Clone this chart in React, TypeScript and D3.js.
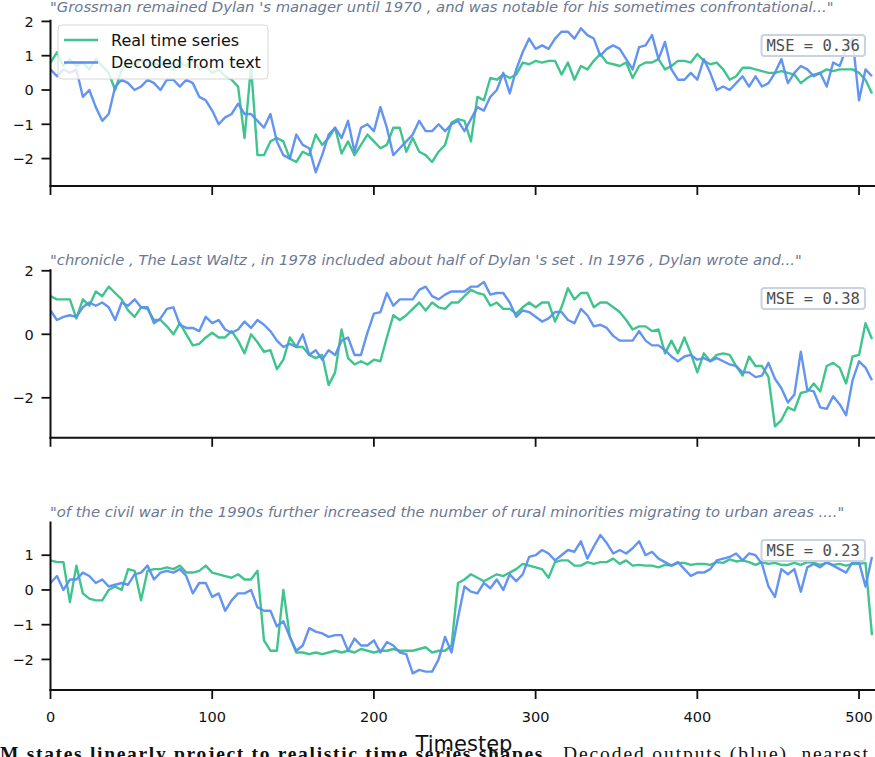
import React from "react";
import * as d3 from "d3";

// ---------- data ----------
const STEP = 4; // timestep spacing between read samples
const X_TICKS = [0, 100, 200, 300, 400, 500];
const Y_TICKS_1 = [-2, -1, 0, 1, 2];
const Y_TICKS_2 = [-2, 0, 2];
const Y_TICKS_3 = [-2, -1, 0, 1];
const TITLES = [
  "\"Grossman remained Dylan 's manager until 1970 , and was notable for his sometimes confrontational...\"",
  "\"chronicle , The Last Waltz , in 1978 included about half of Dylan 's set . In 1976 , Dylan wrote and...\"",
  "\"of the civil war in the 1990s further increased the number of rural minorities migrating to urban areas ....\"",
];
const MSE = ["0.36", "0.38", "0.23"];
const SERIES_NAMES = ["Real time series", "Decoded from text"];

const REAL_1 = [
  0.8, 1.1, 0.7, 0.9, 0.7, 0.8, 0.6, 0.9, 0.7, 0.5, 0.0, 0.6, 0.8, 0.7, 0.9, 0.6,
  0.8, 0.7, 0.9, 0.6, 0.8, 0.7, 0.9, 0.6, 0.7, 0.5, 0.6, 0.4, 0.3, 0.1, -1.4, 0.7,
  -1.9, -1.9, -1.5, -1.4, -1.5, -2.0, -2.1, -1.8, -1.9, -1.3, -1.6, -1.4, -1.1, -1.85, -1.5, -1.9,
  -1.6, -1.3, -1.5, -1.7, -1.6, -1.1, -1.1, -1.8, -1.4, -1.8, -1.9, -2.1, -1.8, -1.6, -0.95, -0.85,
  -0.9, -1.5, -0.2, -0.3, 0.35, 0.3, 0.45, 0.35, 0.45, 0.8, 0.75, 0.85, 0.8, 0.85, 0.85, 0.45,
  0.8, 0.3, 0.7, 0.6, 0.85, 1.05, 0.8, 0.75, 0.7, 0.8, 0.35, 0.7, 0.8, 0.8, 0.9, 0.6,
  0.7, 0.85, 0.85, 0.8, 1.05, 0.85, 0.75, 0.8, 0.6, 0.3, 0.4, 0.65, 0.65, 0.6, 0.55, 0.5,
  0.5, 0.55, 0.5, 0.45, 0.2, 0.35, 0.45, 0.5, 0.6, 0.55, 0.6, 0.6, 0.6, 0.5, 0.3, -0.1,
];
const DECODED_1 = [
  0.6, 0.4, 0.6, 0.5, 0.6, -0.2, 0.0, -0.5, -0.9, -0.7, 0.1, 0.3, 0.2, 0.0, 0.1, 0.3,
  0.2, 0.0, 0.3, 0.3, 0.1, 0.3, 0.2, -0.2, -0.3, -0.6, -1.0, -0.8, -0.7, -0.4, -0.7, -0.7,
  -0.9, -1.1, -0.7, -1.5, -1.9, -2.0, -1.3, -1.6, -1.7, -2.4, -1.9, -1.3, -1.1, -1.4, -0.9, -1.8,
  -1.1, -1.0, -1.2, -0.5, -1.1, -1.9, -1.7, -1.5, -1.3, -0.9, -1.2, -1.2, -1.0, -1.2, -1.0, -0.9,
  -1.2, -0.85, -0.5, -0.6, -0.2, 0.0, 0.5, -0.1, 0.6, 1.1, 1.5, 1.2, 1.3, 1.2, 1.5, 1.7,
  1.7, 1.5, 1.8, 1.6, 1.5, 1.0, 1.2, 1.3, 1.2, 0.9, 0.6, 1.25, 1.3, 1.6, 0.9, 1.4,
  0.6, 0.3, 0.3, 0.5, 0.3, 0.9, 0.5, 0.0, 0.1, 0.0, 0.2, 0.4, 0.1, 0.4, 0.1, 0.2,
  0.5, 0.9, 0.2, 0.5, 0.7, 0.6, 0.4, 0.5, 0.1, 0.8, 0.7, 1.2, 1.5, -0.3, 0.6, 0.4,
];
const REAL_2 = [
  1.2, 1.1, 1.1, 1.1, 0.5, 1.1, 0.9, 1.35, 1.2, 1.5, 1.3, 1.1, 0.75, 0.55, 0.85, 0.8,
  0.45, 0.45, 0.25, 0.0, 0.35, 0.0, -0.35, -0.3, -0.1, 0.05, -0.1, -0.1, 0.1, -0.2, -0.6, 0.0,
  -0.25, -0.55, -0.5, -1.1, -0.8, -0.1, -0.4, -0.4, -0.65, -0.75, -0.65, -1.6, -1.2, 0.15, -0.75, -0.95,
  -0.85, -0.95, -0.8, -0.85, -0.1, 0.6, 0.45, 0.6, 0.8, 1.0, 0.75, 1.0, 0.85, 0.8, 1.0, 1.0,
  1.2, 1.4, 1.3, 1.25, 0.9, 1.0, 0.8, 0.8, 0.65, 0.85, 1.0, 0.85, 1.0, 1.0, 0.4, 0.85,
  1.45, 1.1, 1.3, 1.3, 0.85, 1.0, 1.0, 0.85, 0.7, 0.45, 0.15, 0.25, 0.25, 0.1, 0.15, -0.6,
  -0.2, -0.6, -0.1, -0.6, -1.2, -0.6, -0.85, -0.65, -0.6, -0.65, -1.0, -1.3, -0.7, -1.0, -1.0, -1.35,
  -2.9, -2.7, -2.3, -2.4, -1.85, -1.8, -1.55, -1.8, -1.0, -0.9, -1.05, -1.55, -0.7, -0.65, 0.35, -0.15,
];
const DECODED_2 = [
  0.75, 0.45, 0.55, 0.6, 0.55, 0.85, 1.0, 0.9, 1.0, 0.85, 0.45, 1.0, 0.9, 1.1, 0.85, 0.85,
  0.35, 0.5, 0.8, 0.85, 0.3, 0.2, 0.2, 0.1, 0.55, 0.35, 0.45, 0.15, 0.05, 0.15, 0.4, 0.2,
  0.45, 0.3, 0.1, -0.2, -0.4, -0.3, -0.4, 0.0, -0.65, -0.5, -0.8, -0.5, -0.65, -0.2, -0.1, -0.65,
  -0.65, 0.05, 0.65, 0.7, 1.3, 0.9, 1.1, 1.1, 1.1, 1.4, 1.5, 1.2, 1.1, 1.25, 1.35, 1.35,
  1.35, 1.5, 1.5, 1.65, 1.25, 1.3, 1.3, 1.0, 0.55, 0.75, 0.7, 0.55, 0.4, 0.5, 0.7, 0.7,
  0.45, 0.35, 0.8, 0.6, 0.25, 0.3, 0.2, -0.05, -0.2, -0.2, -0.2, 0.1, -0.2, -0.35, -0.35, -0.5,
  -0.7, -0.85, -0.7, -0.65, -0.8, -0.75, -0.85, -0.75, -0.85, -0.95, -1.0, -1.2, -1.2, -1.35, -1.3, -0.9,
  -1.4, -1.7, -2.15, -1.9, -0.55, -1.75, -1.8, -2.3, -2.35, -1.95, -2.2, -2.55, -1.45, -0.85, -1.05, -1.45,
];
const REAL_3 = [
  0.85, 0.8, 0.8, -0.35, 0.7, -0.1, -0.25, -0.3, -0.3, 0.0, 0.1, 0.0, 0.6, 0.55, -0.3, 0.55,
  0.6, 0.6, 0.65, 0.6, 0.7, 0.5, 0.5, 0.55, 0.7, 0.5, 0.45, 0.4, 0.35, 0.45, 0.3, 0.3,
  0.55, -1.45, -1.75, -1.75, 0.0, -1.35, -1.8, -1.8, -1.85, -1.8, -1.85, -1.8, -1.75, -1.8, -1.75, -1.8,
  -1.7, -1.75, -1.8, -1.75, -1.75, -1.7, -1.75, -1.75, -1.75, -1.7, -1.65, -1.8, -1.75, -1.75, -1.6, 0.2,
  0.3, 0.45, 0.35, 0.25, 0.35, 0.45, 0.4, 0.5, 0.6, 0.75, 0.7, 0.65, 0.6, 0.35, 0.8, 0.85,
  0.85, 0.7, 0.7, 0.8, 0.75, 0.8, 0.8, 0.9, 0.75, 0.85, 0.7, 0.72, 0.7, 0.7, 0.65, 0.72,
  0.7, 0.78, 0.78, 0.72, 0.75, 0.75, 0.72, 0.8, 0.78, 0.88, 0.82, 0.85, 0.8, 0.72, 0.8, 0.75,
  0.78, 0.72, 0.72, 0.78, 0.72, 0.8, 0.78, 0.72, 0.78, 0.72, 0.75, 0.7, 0.75, 0.75, 0.78, -1.3,
];
const DECODED_3 = [
  0.2, 0.4, 0.0, 0.3, 0.3, 0.5, 0.4, 0.2, 0.3, 0.1, 0.15, 0.2, 0.15, 0.45, 0.5, 0.7,
  0.3, 0.5, 0.55, 0.5, 0.6, 0.4, -0.1, 0.2, 0.2, -0.2, -0.1, -0.6, -0.3, -0.1, -0.1, 0.0,
  -0.5, -0.6, -0.6, -1.05, -0.9, -1.35, -1.75, -1.6, -1.1, -1.2, -1.25, -1.35, -1.3, -1.3, -1.75, -1.4,
  -1.6, -1.6, -1.45, -1.8, -1.5, -1.6, -1.8, -1.85, -2.4, -2.3, -2.35, -2.35, -2.0, -1.35, -1.8, -0.8,
  0.1, -0.05, -0.1, 0.2, 0.05, 0.3, 0.0, 0.45, 0.25, 0.45, 0.95, 1.0, 1.15, 1.05, 0.85, 1.0,
  1.15, 1.1, 1.4, 0.9, 1.25, 1.58, 1.35, 1.05, 1.15, 1.05, 1.2, 1.4, 1.0, 1.1, 0.9, 0.8,
  0.7, 0.8, 0.6, 0.4, 0.5, 0.5, 0.6, 0.85, 0.9, 0.95, 1.05, 0.85, 1.05, 1.0, 0.75, 0.1,
  -0.2, 0.6, 0.45, 0.6, -0.05, 0.65, 0.75, 0.65, 0.8, 0.7, 0.6, 0.5, 0.8, 0.8, 0.1, 0.95,
];

// ---------- layout (not data) ----------
const W = 875;
const H = 757;
const GREEN = "#3fc48e";
const BLUE = "#5b8ef0";
const TITLE_COLOR = "#6b7893";
const X_LEFT = 50.5;
const X_RIGHT = 875.2;
const X_MAX = 510;

const PANELS = [
  { real: REAL_1, dec: DECODED_1, ticks: Y_TICKS_1, yMin: -2.8, yMax: 2.05, bottom: 186, top: 19.7, titleY: 12.3, mseY: 35, legend: true, xLabels: false },
  { real: REAL_2, dec: DECODED_2, ticks: Y_TICKS_2, yMin: -3.26, yMax: 2.05, bottom: 437.8, top: 269.2, titleY: 265.3, mseY: 288, legend: false, xLabels: false },
  { real: REAL_3, dec: DECODED_3, ticks: Y_TICKS_3, yMin: -2.88, yMax: 1.97, bottom: 690, top: 521.5, titleY: 517, mseY: 540, legend: false, xLabels: true },
];

const TICK_FONT = "'DejaVu Sans', sans-serif";

function Panel({ p, idx }: { p: (typeof PANELS)[number]; idx: number }) {
  const x = d3.scaleLinear().domain([0, X_MAX]).range([X_LEFT, X_RIGHT]);
  const y = d3.scaleLinear().domain([p.yMin, p.yMax]).range([p.bottom, p.top]);
  const line = d3
    .line<number>()
    .x((_, i) => x(i * STEP))
    .y((d) => y(d));
  const clipId = `clip-${idx}`;
  return (
    <g>
      <defs>
        <clipPath id={clipId}>
          <rect x={X_LEFT} y={p.top} width={X_RIGHT - X_LEFT + 2} height={p.bottom - p.top} />
        </clipPath>
      </defs>
      <text
        x={50}
        y={p.titleY}
        fontFamily={TICK_FONT}
        fontStyle="italic"
        fontSize={14.8}
        fill={TITLE_COLOR}
      >
        {TITLES[idx]}
      </text>
      <g clipPath={`url(#${clipId})`}>
        <path d={line(p.real) || ""} fill="none" stroke={GREEN} strokeWidth={2.4} strokeLinejoin="round" />
        <path d={line(p.dec) || ""} fill="none" stroke={BLUE} strokeWidth={2.4} strokeLinejoin="round" opacity={0.95} />
      </g>
      {/* spines */}
      <line x1={X_LEFT} x2={X_LEFT} y1={p.top} y2={p.bottom + 1} stroke="#111" strokeWidth={2} />
      <line x1={X_LEFT - 1} x2={W} y1={p.bottom} y2={p.bottom} stroke="#111" strokeWidth={2} />
      {/* y ticks */}
      {p.ticks.map((t) => (
        <g key={t}>
          <line x1={X_LEFT - 9} x2={X_LEFT} y1={y(t)} y2={y(t)} stroke="#111" strokeWidth={1.8} />
          <text
            x={33.8}
            y={y(t)}
            dy="0.36em"
            textAnchor="end"
            fontFamily={TICK_FONT}
            fontSize={14.5}
            fill="#111"
          >
            {t < 0 ? `\u2212${Math.abs(t)}` : `${t}`}
          </text>
        </g>
      ))}
      {/* x ticks */}
      {X_TICKS.map((t) => (
        <g key={t}>
          <line x1={x(t)} x2={x(t)} y1={p.bottom} y2={p.bottom + 9} stroke="#111" strokeWidth={1.8} />
          {p.xLabels && (
            <text
              x={x(t)}
              y={p.bottom + 31.5}
              textAnchor="middle"
              fontFamily={TICK_FONT}
              fontSize={14.5}
              fill="#111"
            >
              {t}
            </text>
          )}
        </g>
      ))}
      {/* MSE box */}
      <rect
        x={761.5}
        y={p.mseY}
        width={103.5}
        height={21}
        rx={3}
        fill="white"
        fillOpacity={0.8}
        stroke="#c9d3e1"
        strokeWidth={2}
      />
      <text
        x={813.2}
        y={p.mseY + 10.5}
        dy="0.36em"
        textAnchor="middle"
        fontFamily="'DejaVu Sans Mono', monospace"
        fontSize={15.5}
        fill="#4d4d4d"
      >
        {`MSE = ${MSE[idx]}`}
      </text>
      {p.legend && (
        <g>
          <rect x={58} y={25} width={210} height={54} rx={4} fill="white" fillOpacity={0.8} stroke="#d6d6d6" strokeWidth={1} />
          {SERIES_NAMES.map((name, i) => (
            <g key={name}>
              <line x1={64} x2={98} y1={40 + i * 22.5} y2={40 + i * 22.5} stroke={i === 0 ? GREEN : BLUE} strokeWidth={2.4} />
              <text x={111} y={40 + i * 22.5} dy="0.36em" fontFamily={TICK_FONT} fontSize={16} fill="#111">
                {name}
              </text>
            </g>
          ))}
        </g>
      )}
    </g>
  );
}

export default function App() {
  return (
    <svg
      width={W}
      height={H}
      viewBox={`0 0 ${W} ${H}`}
      style={{ position: "absolute", left: 0, top: 0, background: "white" }}
    >
      <rect x={0} y={0} width={W} height={H} fill="white" />
      {PANELS.map((p, i) => (
        <Panel key={i} p={p} idx={i} />
      ))}
      <text x={0} y={759.5} fontFamily="'Liberation Serif', serif" fontWeight="bold" fontSize={19.5} fill="#111" textLength={549} lengthAdjust="spacing">
        M states linearly project to realistic time series shapes.
      </text>
      <text x={563} y={759.5} fontFamily="'Liberation Serif', serif" fontSize={19.5} fill="#111" textLength={305} lengthAdjust="spacing">
        Decoded outputs (blue), nearest
      </text>
      <text x={464} y={750.5} textAnchor="middle" fontFamily={TICK_FONT} fontSize={21} fill="#111">
        Timestep
      </text>
    </svg>
  );
}
